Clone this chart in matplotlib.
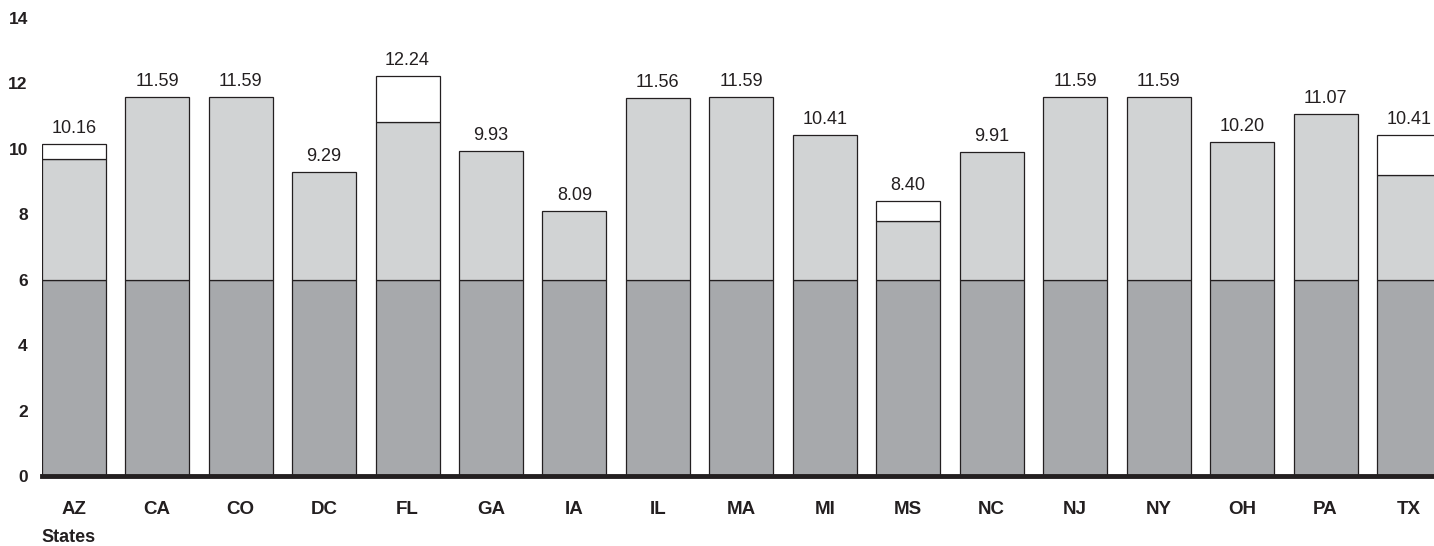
import matplotlib.pyplot as plt

states = ["AZ", "CA", "CO", "DC", "FL", "GA", "IA", "IL", "MA", "MI",
          "MS", "NC", "NJ", "NY", "OH", "PA", "TX"]
base = [6] * 17
middle_top = [9.70, 11.59, 11.59, 9.29, 10.83, 9.93, 8.09, 11.56, 11.59, 10.41,
              7.78, 9.91, 11.59, 11.59, 10.20, 11.07, 9.20]
totals = [10.16, 11.59, 11.59, 9.29, 12.24, 9.93, 8.09, 11.56, 11.59, 10.41,
          8.40, 9.91, 11.59, 11.59, 10.20, 11.07, 10.41]
yticks = [0, 2, 4, 6, 8, 10, 12, 14]

plt.rcParams["font.family"] = ["Liberation Sans", "DejaVu Sans"]

fig = plt.figure(figsize=(14.34, 5.46), dpi=100)
ax = fig.add_axes([41.7 / 1434, 70 / 546, 1 - 41.7 / 1434, 458 / 546])

x = list(range(len(states)))
w = 0.767
edge = "#231f20"
mid = [m - b for m, b in zip(middle_top, base)]
top = [t - m for t, m in zip(totals, middle_top)]

ax.bar(x, base, w, color="#a7a9ac", edgecolor=edge, linewidth=0.9)
ax.bar(x, mid, w, bottom=base, color="#d1d3d4", edgecolor=edge, linewidth=0.9)
for i in x:
    if top[i] > 0.001:
        ax.bar(i, top[i], w, bottom=middle_top[i], color="white", edgecolor=edge, linewidth=0.9)
    ax.annotate(f"{totals[i]:.2f}", (i, totals[i]), xytext=(0, 5), textcoords="offset points",
                ha="center", va="bottom", fontsize=13, color="#231f20")

ax.axhline(0, color=edge, linewidth=3.5, zorder=5, clip_on=False)

ax.set_xlim(-w / 2, 16.3)
ax.set_ylim(0, 14)
ax.set_yticks(yticks)
ax.set_xticks(x)
ax.set_xticklabels(states)
ax.tick_params(axis="y", length=0, pad=10, labelsize=12.5, labelcolor="#231f20")
ax.tick_params(axis="x", length=0, pad=18, labelsize=13.5, labelcolor="#231f20")
for lab in ax.get_xticklabels() + ax.get_yticklabels():
    lab.set_fontweight("bold")
for s in ax.spines.values():
    s.set_visible(False)

fig.text(41.7 / 1434, 1 - 538 / 546, "States", fontsize=13, fontweight="bold",
         color="#231f20", ha="left", va="center")

fig.savefig("out.png", dpi=100)
